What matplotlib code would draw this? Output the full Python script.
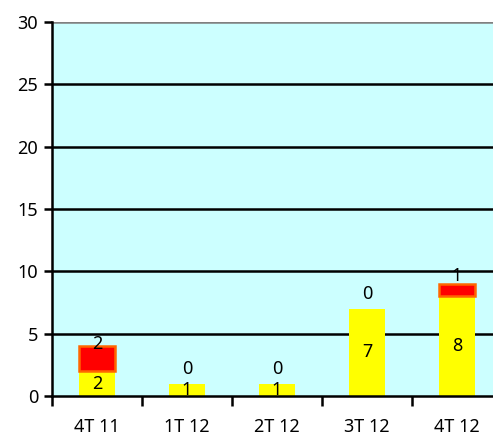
import matplotlib
matplotlib.use("Agg")
import matplotlib.pyplot as plt
import numpy as np

plt.rcParams["font.family"] = ["Noto Sans", "DejaVu Sans"]

categories = ["4T 11", "1T 12", "2T 12", "3T 12", "4T 12"]
yellow_vals = [2, 1, 1, 7, 8]
red_vals = [2, 0, 0, 0, 1]
yticks = [0, 5, 10, 15, 20, 25, 30]

W, H = 493, 433
fig = plt.figure(figsize=(W / 100, H / 100), dpi=100)
ax = fig.add_axes([52 / W, 37 / H, 450 / W, 374 / H])
ax.set_facecolor("#CCFFFF")

x = np.arange(len(categories))
bw = 0.41
ax.bar(x, yellow_vals, width=bw, color="#FFFF00", zorder=3)
edge = ["#FF6600" if v > 0 else "none" for v in red_vals]
ax.bar(x, red_vals, width=bw, bottom=yellow_vals, color="#FF0000",
       edgecolor=edge, linewidth=1.8, zorder=3)

for i in range(len(categories)):
    ax.text(x[i], yellow_vals[i] / 2, str(yellow_vals[i]), ha="center", va="center",
            fontsize=13, zorder=5)
    ax.text(x[i], yellow_vals[i] + red_vals[i] / 2 + 1.15, str(red_vals[i]),
            ha="center", va="center", fontsize=13, zorder=5)

ax.set_ylim(0, 30)
ax.set_xlim(-0.5, 4.5)
ax.set_yticks(yticks)
ax.set_yticklabels([str(v) for v in yticks], fontsize=13)
for v in yticks[1:-1]:
    ax.axhline(v, color="black", linewidth=1.8, zorder=2)
ax.axhline(30, color="#808080", linewidth=1.8, zorder=2)

ax.set_xticks(x)
ax.set_xticklabels(categories, fontsize=13)
ax.tick_params(axis="x", which="major", length=0, pad=16)
ax.set_xticks(np.arange(-0.5, 4.6, 1.0), minor=True)
ax.tick_params(axis="x", which="minor", length=7, width=1.8, direction="out")
ax.tick_params(axis="y", length=6, width=1.8, pad=4)

for s in ["top", "right"]:
    ax.spines[s].set_visible(False)
ax.spines["left"].set_linewidth(1.8)
ax.spines["bottom"].set_linewidth(1.8)
ax.spines["left"].set_zorder(4)
ax.spines["bottom"].set_zorder(4)

fig.savefig("out.png", dpi=100)
